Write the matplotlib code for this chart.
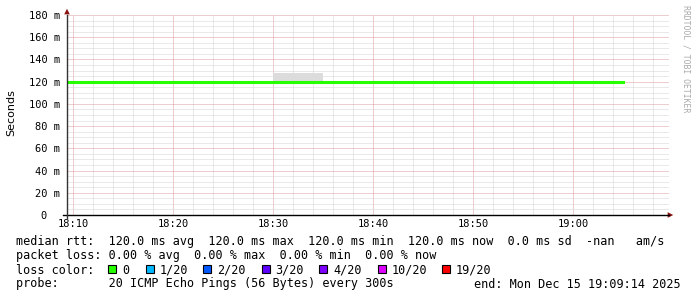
import datetime as dt
import numpy as np
import matplotlib
matplotlib.use("Agg")
import matplotlib.pyplot as plt
import matplotlib.dates as mdates
from matplotlib.patches import Rectangle

# graph window (600 px wide, 10 px per minute)
start = dt.datetime(2025, 12, 15, 18, 9, 22)
end = start + dt.timedelta(minutes=60.2)

# 5 minute rrd steps (value covers the step ending at that time)
step_times = [dt.datetime(2025, 12, 15, 18, 5) + dt.timedelta(minutes=5 * i) for i in range(13)]
median_ms = [120, 120, 120, 120, 120, 120, 120, 120, 120, 120, 120, 120, 120]
smoke_top_ms = [np.nan, np.nan, np.nan, np.nan, np.nan, np.nan, 128, np.nan,
                np.nan, np.nan, np.nan, np.nan, np.nan]

yticks = [0, 20, 40, 60, 80, 100, 120, 140, 160, 180]
ytick_labels = ["0  "] + [f"{v} m" for v in yticks[1:]]

loss_labels = ["0", "1/20", "2/20", "3/20", "4/20", "10/20", "19/20"]
loss_colors = ["#26ff00", "#00b8ff", "#0059ff", "#5e00ff", "#7e00ff", "#dd00ff", "#ff0000"]

legend_lines = [
    "median rtt:  120.0 ms avg  120.0 ms max  120.0 ms min  120.0 ms now  0.0 ms sd  -nan   am/s",
    "packet loss: 0.00 % avg  0.00 % max  0.00 % min  0.00 % now",
    "loss color:",
    "probe:       20 ICMP Echo Pings (56 Bytes) every 300s",
]
end_text = "end: Mon Dec 15 19:09:14 2025"

W, H = 697, 297
fig = plt.figure(figsize=(W / 100, H / 100), dpi=100)
fig.patch.set_facecolor("white")

# plot area in pixels
x0, x1, ytop, ybot = 67, 669, 15, 215
ax = fig.add_axes([x0 / W, 1 - ybot / H, (x1 - x0) / W, (ybot - ytop) / H])
ax.set_facecolor("white")
ax.set_xlim(start, end)
ax.set_ylim(0, 180)

# grid
ax.set_yticks(yticks)
ax.set_yticks(np.arange(0, 181, 5), minor=True)
ax.xaxis.set_major_locator(mdates.MinuteLocator(byminute=range(0, 60, 10)))
ax.xaxis.set_minor_locator(mdates.MinuteLocator(byminute=range(0, 60, 2)))
ax.xaxis.set_major_formatter(mdates.DateFormatter("%H:%M"))
ax.grid(which="minor", color="#d4d4d4", linestyle=(0, (1, 1)), linewidth=0.72, zorder=0)
ax.grid(which="major", color="#dc9c9c", linestyle=(0, (1, 1)), linewidth=0.72, zorder=0.5)
ax.set_axisbelow(True)

ax.set_yticklabels(ytick_labels)
ax.tick_params(which="both", length=0)
ax.tick_params(axis="y", pad=5)
ax.tick_params(axis="x", pad=3)
for lab in ax.get_xticklabels() + ax.get_yticklabels():
    lab.set_fontfamily("DejaVu Sans Mono")
    lab.set_fontsize(7.5)
    lab.set_color("#000000")

for s in ax.spines.values():
    s.set_visible(False)

# smoke: one bar per step that has a value, spanning the step before its timestamp
step = dt.timedelta(minutes=5)
for t, med, top in zip(step_times, median_ms, smoke_top_ms):
    if not np.isnan(top):
        ax.bar(t - step, top - med, bottom=med, width=step, align="edge",
               color="#dcdcdc", linewidth=0, zorder=2)
ax.step(step_times, median_ms, where="pre", color=loss_colors[0], linewidth=2.2, zorder=3)

# axes with arrows
ax.plot([-4 / 602, 1.0], [0, 0], transform=ax.transAxes, color="black", lw=1,
        clip_on=False, zorder=4)
ax.plot([0, 0], [-3 / 200, 1.0], transform=ax.transAxes, color="#333333", lw=1,
        clip_on=False, zorder=4)
ax.annotate("", xy=(1 + 7 / 602, 0), xytext=(1.0, 0), xycoords="axes fraction",
            arrowprops=dict(arrowstyle="-|>", color="#8b1010", lw=0, mutation_scale=10))
ax.annotate("", xy=(0, 1 + 9 / 200), xytext=(0, 1.0), xycoords="axes fraction",
            arrowprops=dict(arrowstyle="-|>", color="#8b1010", lw=0, mutation_scale=10))

fig.text(11 / W, 1 - 113 / H, "Seconds", rotation=90, ha="center", va="center",
         fontsize=8, family="DejaVu Sans")
fig.text(686 / W, 1 - 5 / H, "RRDTOOL / TOBI OETIKER", rotation=270, ha="center",
         va="top", fontsize=5.9, family="DejaVu Sans Mono", color="#aaaaaa")

# legend
mono = dict(family="DejaVu Sans Mono", fontsize=8.5, va="baseline", color="black")
baselines = [245.5, 259.5, 273.5, 287.5]
for txt, yb in zip(legend_lines, baselines):
    fig.text(16 / W, 1 - yb / H, txt, ha="left", **mono)
fig.text(681 / W, 1 - baselines[3] / H, end_text, ha="right", **mono)

box_x = [108, 145.5, 203, 261.5, 319, 377.5, 441.5]
for bx, col, lab in zip(box_x, loss_colors, loss_labels):
    fig.patches.append(Rectangle((bx / W, 1 - 273 / H), 8 / W, 8 / H,
                                 transform=fig.transFigure, facecolor=col,
                                 edgecolor="black", linewidth=0.8))
    fig.text((bx + 14) / W, 1 - baselines[2] / H, lab, ha="left", **mono)

fig.savefig("out.png", dpi=100, facecolor="white")
